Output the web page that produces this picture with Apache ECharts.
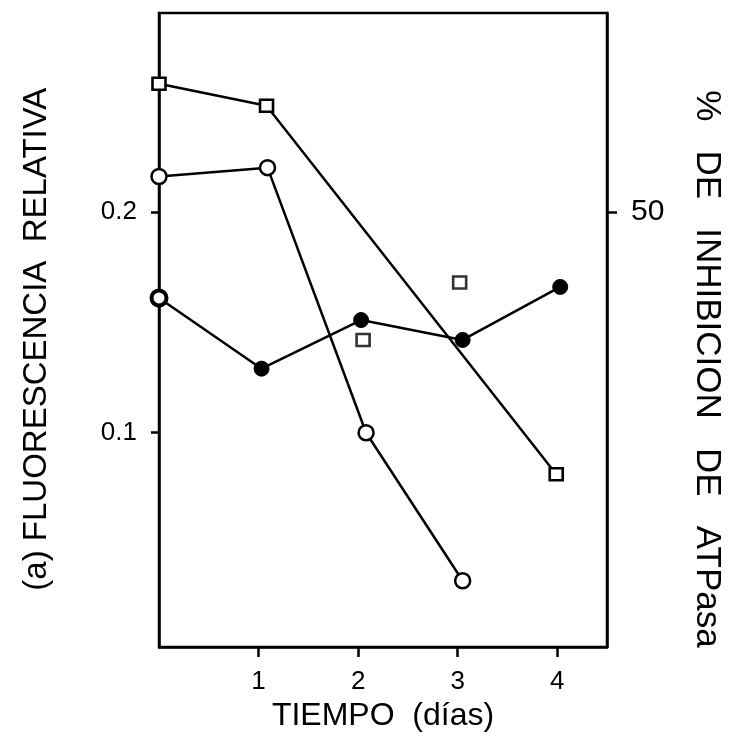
<!DOCTYPE html>
<html>
<head>
<meta charset="utf-8">
<script src="https://cdn.jsdelivr.net/npm/echarts@6/dist/echarts.min.js"></script>
<style>
  html, body { margin: 0; padding: 0; background: #fff; }
  #main { width: 747px; height: 747px; }
</style>
</head>
<body>
<div id="main"></div>
<script>
// días (eje x) y valores
var xTicks = [1, 2, 3, 4];
var yTicks = [0.1, 0.2];
var rightTicks = [50];

// (o) fluorescencia relativa, círculos abiertos
var abiertoX = [0, 1.09, 2.08, 3.05];
var abiertoY = [0.216, 0.220, 0.100, 0.033];

// (●) fluorescencia relativa, círculos llenos
var llenoX = [0, 1.03, 2.03, 3.05, 4.03];
var llenoY = [0.161, 0.129, 0.151, 0.142, 0.166];

// (□) % de inhibición de ATPasa, unidos
var cuadroX = [0, 1.08, 3.99];
var cuadroY = [64.5, 62.0, 20.3];
// (□) puntos sueltos
var sueltoX = [2.05, 3.02];
var sueltoY = [35.5, 42.0];

function pares(xs, ys) {
  return xs.map(function (x, i) { return [x, ys[i]]; });
}

var fuente = 'Liberation Sans';
var negro = '#000';

var myChart = echarts.init(document.getElementById('main'));
var option = {
  backgroundColor: '#fff',
  animation: false,
  grid: {
    left: 159, right: 140, top: 13, bottom: 100,
    show: true, borderColor: negro, borderWidth: 2.5
  },
  xAxis: {
    type: 'value', min: 0, max: 4.5,
    name: 'TIEMPO  (días)', nameLocation: 'middle', nameGap: 53,
    nameTextStyle: { fontFamily: fuente, fontSize: 32, color: negro },
    axisLine: { lineStyle: { color: negro, width: 2.5 } },
    axisTick: { customValues: xTicks, length: 10, lineStyle: { color: negro, width: 2.5 } },
    axisLabel: { customValues: xTicks, margin: 22, fontFamily: fuente, fontSize: 26, color: negro },
    splitLine: { show: false }
  },
  yAxis: [
    {
      type: 'value', min: 0.003, max: 0.29,
      name: '(a) FLUORESCENCIA  RELATIVA  ', nameLocation: 'middle', nameGap: 106,
      nameTextStyle: { fontFamily: fuente, fontSize: 33, color: negro },
      axisLine: { show: true, lineStyle: { color: negro, width: 2.5 } },
      axisTick: { customValues: yTicks, length: 8, lineStyle: { color: negro, width: 2.5 } },
      axisLabel: { customValues: yTicks, margin: 22, fontFamily: fuente, fontSize: 26, color: negro,
        formatter: function (v) { return v.toFixed(1); } },
      splitLine: { show: false }
    },
    {
      type: 'value', min: 0.75, max: 72.5, position: 'right',
      name: '        %   DE   INHIBICION   DE   ATPasa', nameLocation: 'middle', nameGap: 82, nameRotate: -90,
      nameTextStyle: { fontFamily: fuente, fontSize: 35, color: negro },
      axisLine: { show: true, lineStyle: { color: negro, width: 2.5 } },
      axisTick: { customValues: rightTicks, length: 10, lineStyle: { color: negro, width: 2.5 } },
      axisLabel: { customValues: rightTicks, margin: 24, fontFamily: fuente, fontSize: 30, color: negro },
      splitLine: { show: false }
    }
  ],
  series: [
    {
      type: 'line', data: pares(abiertoX, abiertoY),
      symbol: 'circle', symbolSize: 15,
      itemStyle: { color: '#fff', borderColor: negro, borderWidth: 2.5 },
      lineStyle: { color: negro, width: 2.5 }
    },
    {
      type: 'line',
      data: pares(llenoX, llenoY).map(function (p, i) {
        if (i === 0) {
          return { value: p, itemStyle: { color: '#fff', borderColor: negro, borderWidth: 4 } };
        }
        return p;
      }),
      symbol: 'circle', symbolSize: 15,
      itemStyle: { color: negro, borderColor: negro, borderWidth: 1 },
      lineStyle: { color: negro, width: 2.5 }
    },
    {
      type: 'line', yAxisIndex: 1, data: pares(cuadroX, cuadroY),
      symbol: 'rect', symbolSize: [13, 12],
      itemStyle: { color: '#fff', borderColor: negro, borderWidth: 2.5 },
      lineStyle: { color: negro, width: 2.5 }
    },
    {
      type: 'scatter', yAxisIndex: 1, data: pares(sueltoX, sueltoY),
      symbol: 'rect', symbolSize: [13, 12],
      itemStyle: { color: '#fff', borderColor: negro, borderWidth: 2.5 }
    }
  ]
};
myChart.setOption(option);
</script>
</body>
</html>
